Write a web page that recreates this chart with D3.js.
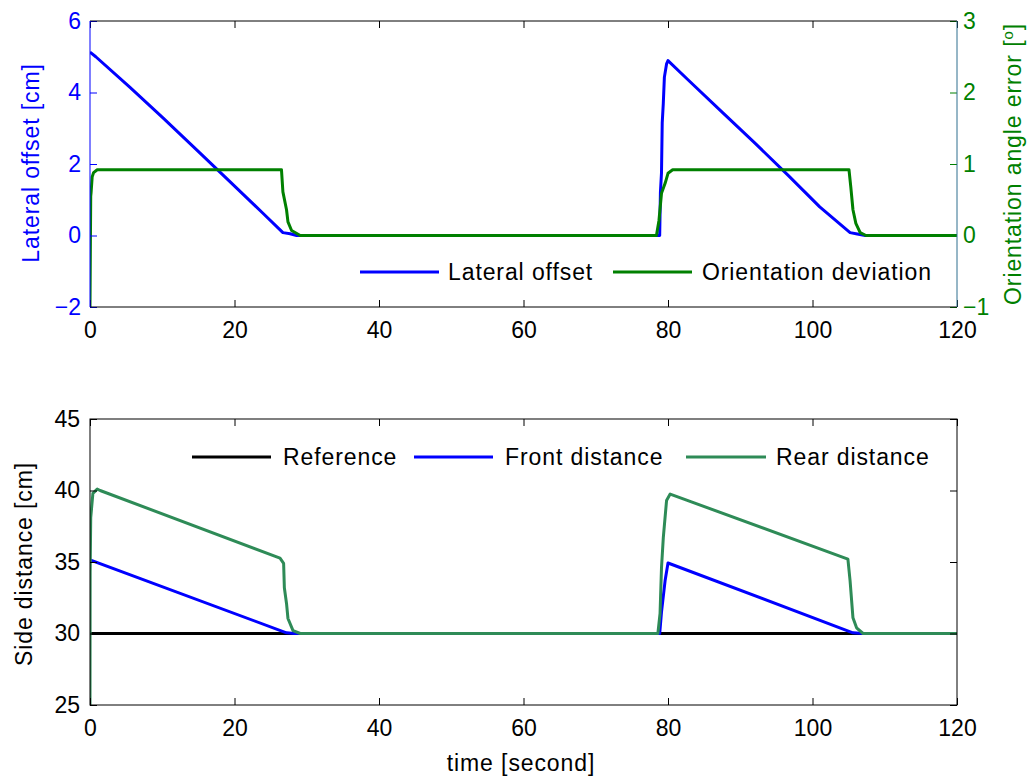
<!DOCTYPE html>
<html lang="en">
<head>
    <meta charset="UTF-8">
    <title>Lateral offset and side distance</title>
    <script src="https://d3js.org/d3.v7.min.js"></script>
    <style>
        body { margin: 0; background: #fff; }
        svg { display: block; font-family: "Liberation Sans", Arial, sans-serif; }
    </style>
</head>
<body>
    <svg width="1032" height="778"></svg>
    <script>
        // ticks
        const timeTicks = [0, 20, 40, 60, 80, 100, 120];
        const offsetTicks = [-2, 0, 2, 4, 6];
        const angleTicks = [-1, 0, 1, 2, 3];
        const sideTicks = [25, 30, 35, 40, 45];

        // top plot: lateral offset [cm]
        const offsetTime = [0, 0.8, 5.5, 10.1, 14.8, 19.4, 23.9, 26.7, 27.7, 28.6, 78.85, 78.95, 79.1, 79.2, 79.35, 79.5, 79.8, 80.0, 82.8, 87.6, 92.0, 96.6, 101.0, 105.2, 106.2, 107.3, 120];
        const offsetVal  = [5.13, 5.0, 4.15, 3.29, 2.39, 1.50, 0.63, 0.08, 0.05, 0, 0, 1.2, 1.75, 3.15, 3.7, 4.43, 4.8, 4.89, 4.35, 3.43, 2.59, 1.69, 0.8, 0.08, 0.04, 0, 0];

        // top plot: orientation deviation [deg]
        const angleTime = [0, 0.05, 0.1, 0.15, 0.3, 0.5, 1.0, 26.5, 26.7, 27.2, 27.4, 27.9, 29.1, 78.4, 78.75, 79.1, 79.6, 80.0, 80.65, 105.05, 105.3, 105.6, 106.0, 106.6, 107.4, 120];
        const angleVal  = [-1, -0.2, 0.55, 0.6, 0.82, 0.88, 0.92, 0.92, 0.61, 0.36, 0.19, 0.07, 0, 0, 0.21, 0.59, 0.73, 0.87, 0.92, 0.92, 0.68, 0.36, 0.17, 0.04, 0, 0];

        // bottom plot: side distances [cm]
        const refTime = [0, 120];
        const refVal  = [30, 30];
        const frontTime = [0, 27.2, 28.3, 78.85, 79.1, 79.6, 80.0, 105.6, 107.0, 120];
        const frontVal  = [35.14, 30.05, 30, 30, 31.5, 33.7, 34.93, 30.05, 30, 30];
        const rearTime = [0, 0.02, 0.1, 0.4, 1.0, 1.4, 26.3, 26.8, 26.9, 27.2, 27.4, 28.1, 29.1, 78.6, 78.9, 79.1, 79.35, 79.8, 80.3, 104.9, 105.2, 105.6, 106.1, 107.0, 120];
        const rearVal  = [25, 34.3, 38.1, 39.8, 40.1, 40.0, 35.27, 34.9, 33.2, 32.1, 31.05, 30.2, 30, 30, 31.4, 34.6, 36.7, 39.3, 39.75, 35.2, 33.7, 31.1, 30.4, 30, 30];

        const BLUE = '#0000ff', GREEN = '#008000', SEA = '#2e8b57';
        const FS = 23, LS = 0.9;

        const svg = d3.select('svg');

        const x = d3.scaleLinear().domain([0, 120]).range([90, 957]);
        const yOff = d3.scaleLinear().domain([-2, 6]).range([307, 21]);
        const yAng = d3.scaleLinear().domain([-1, 3]).range([307, 21]);
        const ySide = d3.scaleLinear().domain([25, 45]).range([705, 419]);

        const zip = (ts, vs) => ts.map((t, i) => [t, vs[i]]);

        function axis(g, ax, color, labels) {
            g.call(ax.tickFormat(d3.format('d')));
            g.attr('font-size', FS).attr('font-family', null);
            g.select('.domain').remove();
            g.selectAll('.tick line').attr('stroke', color);
            if (labels) g.selectAll('.tick text').attr('fill', color);
            else g.selectAll('.tick text').remove();
        }

        function panel(y0, y1, clipId) {
            svg.append('clipPath').attr('id', clipId)
                .append('rect').attr('x', 90).attr('y', y0).attr('width', 867).attr('height', y1 - y0);
        }

        function drawLine(pts, yScale, color, clipId) {
            const line = d3.line().x(d => x(d[0])).y(d => yScale(d[1]));
            svg.append('path').datum(pts)
                .attr('clip-path', `url(#${clipId})`)
                .attr('fill', 'none').attr('stroke', color)
                .attr('stroke-width', 3).attr('stroke-linejoin', 'round')
                .attr('d', line);
        }

        // ---------- top plot ----------
        panel(19, 309, 'clipTop');
        drawLine(zip(offsetTime, offsetVal), yOff, BLUE, 'clipTop');
        drawLine(zip(angleTime, angleVal), yAng, GREEN, 'clipTop');

        axis(svg.append('g').attr('transform', 'translate(0,307)'),
            d3.axisBottom(x).tickValues(timeTicks).tickSize(-7).tickPadding(15), '#000', true);
        axis(svg.append('g').attr('transform', 'translate(0,21)'),
            d3.axisTop(x).tickValues(timeTicks).tickSize(-7), '#000', false);
        axis(svg.append('g').attr('transform', 'translate(90,0)'),
            d3.axisLeft(yOff).tickValues(offsetTicks).tickSize(-7).tickPadding(9), BLUE, true);
        axis(svg.append('g').attr('transform', 'translate(957,0)'),
            d3.axisRight(yAng).tickValues(angleTicks).tickSize(-7).tickPadding(6), GREEN, true);

        svg.append('line').attr('x1', 90).attr('x2', 957).attr('y1', 21).attr('y2', 21).attr('stroke', '#000');
        svg.append('line').attr('x1', 90).attr('x2', 957).attr('y1', 307).attr('y2', 307).attr('stroke', '#000');
        svg.append('line').attr('x1', 90).attr('x2', 90).attr('y1', 21).attr('y2', 307).attr('stroke', BLUE);
        svg.append('line').attr('x1', 957).attr('x2', 957).attr('y1', 21).attr('y2', 307).attr('stroke', '#2f6f8f');

        svg.append('text').attr('transform', 'translate(31,163) rotate(-90)')
            .attr('text-anchor', 'middle').attr('dy', '0.35em')
            .attr('font-size', FS).attr('letter-spacing', LS).attr('fill', BLUE)
            .text('Lateral offset [cm]');
        const rt = svg.append('text').attr('transform', 'translate(1013,164) rotate(-90)')
            .attr('text-anchor', 'middle').attr('dy', '0.35em')
            .attr('font-size', FS).attr('letter-spacing', LS).attr('fill', GREEN);
        rt.append('tspan').text('Orientation angle error [');
        rt.append('tspan').attr('baseline-shift', 'super').attr('font-size', 15).text('o');
        rt.append('tspan').text(']');

        // legend top
        const legTop = [
            { name: 'Lateral offset', color: BLUE, x0: 360, x1: 439, tx: 448 },
            { name: 'Orientation deviation', color: GREEN, x0: 613, x1: 692, tx: 702 }
        ];
        legTop.forEach(d => {
            svg.append('line').attr('x1', d.x0).attr('x2', d.x1).attr('y1', 272).attr('y2', 272)
                .attr('stroke', d.color).attr('stroke-width', 3);
            svg.append('text').attr('x', d.tx).attr('y', 272).attr('dy', '0.35em')
                .attr('font-size', FS).attr('letter-spacing', LS).text(d.name);
        });

        // ---------- bottom plot ----------
        panel(417, 707, 'clipBot');
        drawLine(zip(refTime, refVal), ySide, '#000', 'clipBot');
        drawLine(zip(frontTime, frontVal), ySide, BLUE, 'clipBot');
        drawLine(zip(rearTime, rearVal), ySide, SEA, 'clipBot');

        axis(svg.append('g').attr('transform', 'translate(0,705)'),
            d3.axisBottom(x).tickValues(timeTicks).tickSize(-7).tickPadding(15), '#000', true);
        axis(svg.append('g').attr('transform', 'translate(0,419)'),
            d3.axisTop(x).tickValues(timeTicks).tickSize(-7), '#000', false);
        axis(svg.append('g').attr('transform', 'translate(90,0)'),
            d3.axisLeft(ySide).tickValues(sideTicks).tickSize(-7).tickPadding(10), '#000', true);
        axis(svg.append('g').attr('transform', 'translate(957,0)'),
            d3.axisRight(ySide).tickValues(sideTicks).tickSize(-7), '#000', false);

        svg.append('rect').attr('x', 90).attr('y', 419).attr('width', 867).attr('height', 286)
            .attr('fill', 'none').attr('stroke', '#000');

        svg.append('text').attr('transform', 'translate(24,564) rotate(-90)')
            .attr('text-anchor', 'middle').attr('dy', '0.35em')
            .attr('font-size', FS).attr('letter-spacing', LS)
            .text('Side distance [cm]');
        svg.append('text').attr('x', 521).attr('y', 763).attr('dy', '0.35em')
            .attr('text-anchor', 'middle').attr('font-size', FS).attr('letter-spacing', LS)
            .text('time [second]');

        // legend bottom
        const legBot = [
            { name: 'Reference', color: '#000', x0: 192, x1: 271, tx: 283 },
            { name: 'Front distance', color: BLUE, x0: 414, x1: 493, tx: 505 },
            { name: 'Rear distance', color: SEA, x0: 686, x1: 766, tx: 776 }
        ];
        legBot.forEach(d => {
            svg.append('line').attr('x1', d.x0).attr('x2', d.x1).attr('y1', 457).attr('y2', 457)
                .attr('stroke', d.color).attr('stroke-width', 3);
            svg.append('text').attr('x', d.tx).attr('y', 457).attr('dy', '0.35em')
                .attr('font-size', FS).attr('letter-spacing', LS).text(d.name);
        });
    </script>
</body>
</html>
